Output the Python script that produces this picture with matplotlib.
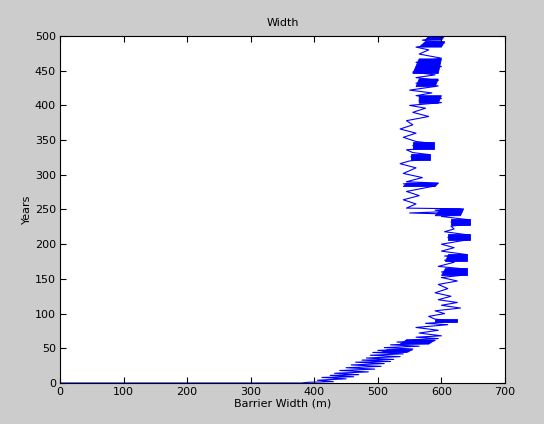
import numpy as np
import matplotlib
matplotlib.use('Agg')
import matplotlib.pyplot as plt

# trace of the barrier width (m) against model year, in three stretches
low_w = [0, 380, 390, 430, 405, 450, 412, 462, 425, 470,
         432, 485, 440, 495, 450, 505, 458, 510, 465, 520,
         475, 525, 482, 535, 488, 540, 492, 548, 500, 555,
         510, 565, 520, 575, 530, 590, 545, 595]
low_y = [0, 0, 1, 2, 4, 6, 8, 9, 11, 12,
         14, 16, 18, 20, 22, 24, 26, 28, 30, 31,
         33, 34, 36, 38, 40, 42, 44, 45, 47, 49,
         51, 53, 55, 57, 59, 61, 62, 64]

mid_w = [560, 600, 565, 595, 560, 610, 575,
         625, 590, 580, 605, 590, 630, 600,
         625, 595, 615, 590, 610, 595, 625,
         600, 640, 600, 640, 595, 620, 605,
         640, 605, 640, 600, 620, 600, 645,
         610, 645, 605, 620, 615, 645, 615,
         645, 600, 630, 550, 610, 590, 630]
mid_y = [66, 68, 72, 76, 80, 84, 86,
         89, 92, 96, 100, 104, 108, 112,
         116, 120, 125, 130, 136, 142, 147,
         152, 156, 160, 164, 168, 174, 177,
         180, 183, 185, 190, 195, 200, 207,
         210, 213, 218, 222, 226, 229, 232,
         235, 240, 243, 245, 247, 249, 251]

top_w = [545, 560, 540, 565, 545, 590, 540,
         595, 545, 570, 540, 560, 535, 550,
         582, 552, 582, 555, 545, 588, 555,
         588, 560, 540, 560, 535, 555, 545,
         580, 555, 575, 550, 600, 565, 600,
         560, 585, 550, 595, 560, 595, 560,
         590, 555, 600, 560, 600, 565, 580,
         560, 605, 570, 605]
top_y = [252, 258, 264, 270, 276, 284, 287,
         288, 290, 296, 302, 310, 316, 320,
         323, 326, 329, 332, 336, 339, 342,
         345, 348, 354, 360, 366, 372, 378,
         384, 390, 396, 400, 404, 407, 410,
         414, 418, 422, 428, 432, 436, 440,
         444, 448, 456, 462, 468, 474, 480,
         484, 490, 494, 500]

# dense oscillation bands: year range and left/right width at the bottom and top
band_y0 = [44, 56, 88, 155, 176, 206, 227, 241, 283, 321, 337, 403, 427, 446, 484, 494]
band_y1 = [48, 62, 92, 165, 186, 214, 236, 251, 288, 330, 347, 414, 438, 467, 492, 500]
band_l0 = [505, 535, 590, 600, 605, 610, 615, 590, 540, 552, 555, 565, 560, 555, 565, 575]
band_r0 = [545, 580, 625, 640, 640, 645, 645, 630, 590, 582, 588, 595, 590, 595, 600, 600]
band_l1 = [515, 545, 590, 605, 610, 610, 615, 600, 545, 552, 555, 565, 565, 565, 575, 580]
band_r1 = [555, 590, 625, 640, 640, 645, 645, 635, 595, 582, 588, 600, 595, 600, 605, 605]

widths = low_w + mid_w + top_w
years = low_y + mid_y + top_y

blue = '#0000ff'
fig = plt.figure(figsize=(5.44, 4.24), dpi=100, facecolor='#cccccc')
ax = fig.add_axes([60 / 544, 41 / 424, 445 / 544, 347 / 424])

ax.plot(widths, years, color=blue, lw=0.8)
for i in range(len(band_y0)):
    ax.fill([band_l0[i], band_r0[i], band_r1[i], band_l1[i]],
            [band_y0[i], band_y0[i], band_y1[i], band_y1[i]],
            color=blue, lw=0.6)

ax.set_xlim(0, 700)
ax.set_ylim(0, 500)
ax.set_xticks(np.arange(0, 701, 100))
ax.set_yticks(np.arange(0, 501, 50))
ax.tick_params(direction='in', top=True, right=True, length=4, labelsize=8,
               colors='black', pad=3)
for s in ax.spines.values():
    s.set_linewidth(0.8)

ax.set_title('Width', fontsize=8, pad=7)
ax.set_xlabel('Barrier Width (m)', fontsize=8, labelpad=1)
ax.set_ylabel('Years', fontsize=8, labelpad=2)

fig.savefig('out.png', dpi=100, facecolor=fig.get_facecolor())
